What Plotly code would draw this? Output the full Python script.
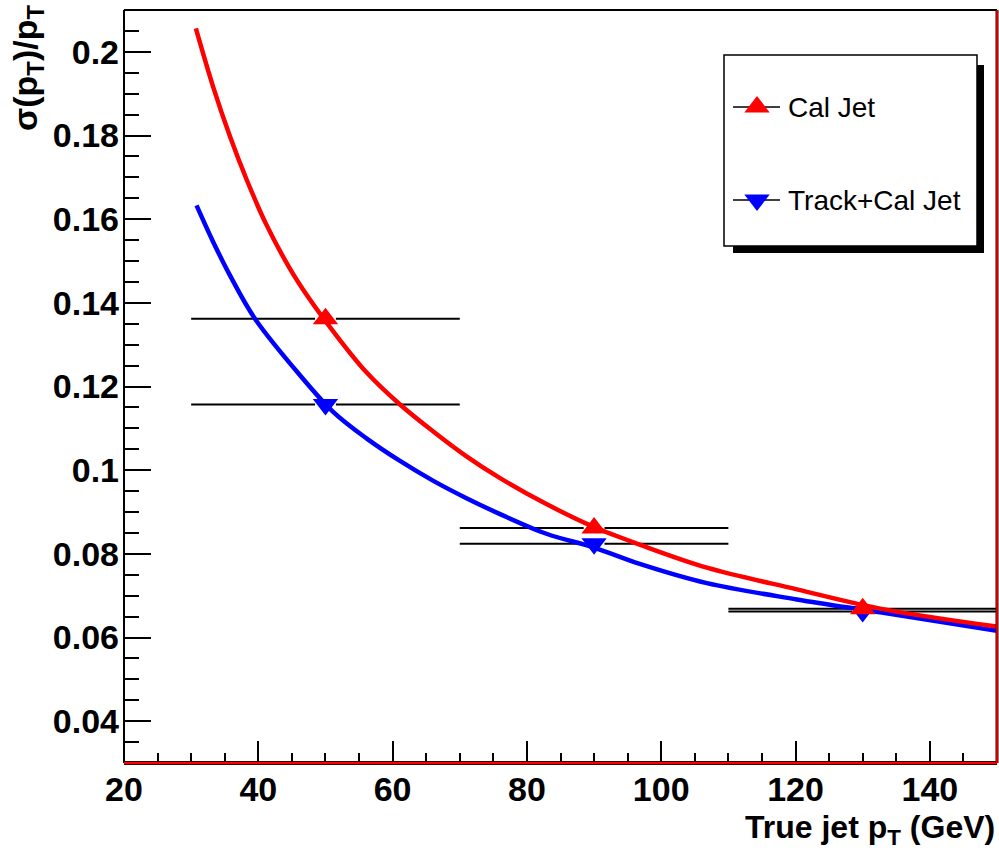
import plotly.graph_objects as go

# ---- data ----
pt_points = [50, 90, 130]
pt_halfwidth = [20, 20, 20]
cal_res = [0.1362, 0.0862, 0.0669]
trk_res = [0.1157, 0.0824, 0.0662]

cal_fit_pt = [30.7, 33.3, 35.8, 38.3, 41.2, 44.7, 47.5, 51.1, 56.1, 61.1, 66.0, 71.0,
              76.0, 82.9, 90.0, 96.8, 106.8, 120.2, 132.6, 150.0]
cal_fit_res = [0.2056, 0.1915, 0.1797, 0.1693, 0.1587, 0.1482, 0.1412, 0.1333, 0.1234, 0.1157,
               0.1093, 0.1033, 0.0981, 0.0919, 0.0864, 0.0822, 0.0767, 0.0715, 0.0669, 0.0626]
trk_fit_pt = [30.8, 33.3, 35.8, 39.5, 46.2, 51.1, 56.1, 61.1, 66.0, 71.0, 76.0,
              82.9, 90.0, 96.8, 106.8, 120.2, 132.6, 150.0]
trk_fit_res = [0.1633, 0.1545, 0.1465, 0.1362, 0.1227, 0.1140, 0.1076, 0.1022, 0.0975, 0.0933,
               0.0895, 0.0848, 0.0815, 0.0776, 0.0730, 0.0691, 0.0660, 0.0616]

x_range = [20, 150]
y_range = [0.03, 0.21]
legend_names = ["Cal Jet", "Track+Cal Jet"]

RED = "#ff0000"
BLUE = "#0000ff"
MSIZE = 22
MARKER_GAP = 1.55  # half-width (data units) of the gap ROOT leaves around a marker


def err_segments(xs, hw, ys, gap):
    X, Y = [], []
    for x, h, y in zip(xs, hw, ys):
        X += [x - h, x - gap, None, x + gap, x + h, None]
        Y += [y, y, None, y, y, None]
    return X, Y


fig = go.Figure()

for ys in (trk_res, cal_res):
    ex, ey = err_segments(pt_points, pt_halfwidth, ys, MARKER_GAP)
    fig.add_trace(go.Scatter(x=ex, y=ey, mode="lines", line=dict(color="black", width=2),
                             hoverinfo="skip", showlegend=False))

fig.add_trace(go.Scatter(x=trk_fit_pt, y=trk_fit_res, mode="lines",
                         line=dict(color=BLUE, width=4.5, shape="spline", smoothing=1.0), showlegend=False))
fig.add_trace(go.Scatter(x=pt_points, y=trk_res, mode="markers", name=legend_names[1],
                         marker=dict(symbol="triangle-down", size=MSIZE, color=BLUE), showlegend=False))
fig.add_trace(go.Scatter(x=cal_fit_pt, y=cal_fit_res, mode="lines",
                         line=dict(color=RED, width=4.5, shape="spline", smoothing=1.0), showlegend=False))
fig.add_trace(go.Scatter(x=pt_points, y=cal_res, mode="markers", name=legend_names[0],
                         marker=dict(symbol="triangle-up", size=MSIZE, color=RED), showlegend=False))

# ---- legend (ROOT style, drawn by hand) ----
W, H = 873.0, 753.0  # plot area in px
L, T = 124.0, 10.0


def px(xp):
    return (xp - L) / W


def py(yp):
    return (T + H - yp) / H


shapes = []
# shadow
shapes.append(dict(type="rect", xref="paper", yref="paper", x0=px(733), x1=px(984), y0=py(253), y1=py(65),
                   fillcolor="black", line=dict(width=0), layer="below"))
# box
shapes.append(dict(type="rect", xref="paper", yref="paper", x0=px(724), x1=px(977), y0=py(246), y1=py(55),
                   fillcolor="white", line=dict(color="black", width=1.5), layer="below"))
entry_y = [107, 200]
for ey in entry_y:
    shapes.append(dict(type="line", xref="paper", yref="paper", x0=px(733), x1=px(780), y0=py(ey), y1=py(ey),
                       line=dict(color="black", width=1.5), layer="below"))

# frame
shapes.append(dict(type="line", xref="paper", yref="paper", x0=0, x1=1, y0=1, y1=1,
                   line=dict(color="black", width=2), layer="above"))
shapes.append(dict(type="line", xref="paper", yref="paper", x0=0, x1=0, y0=0, y1=1,
                   line=dict(color="black", width=2), layer="above"))
shapes.append(dict(type="line", xref="paper", yref="paper", x0=0, x1=1, y0=0, y1=0,
                   line=dict(color="#300000", width=4), layer="above"))
shapes.append(dict(type="line", xref="paper", yref="paper", x0=0, x1=1, y0=0, y1=0,
                   line=dict(color=RED, width=2), layer="above"))
shapes.append(dict(type="line", xref="paper", yref="paper", x0=1, x1=1, y0=0, y1=1,
                   line=dict(color="#300000", width=3), layer="above"))
shapes.append(dict(type="line", xref="paper", yref="paper", x0=1, x1=1, y0=0, y1=1,
                   line=dict(color=RED, width=1.5), layer="above"))

# legend markers on an overlay axis in paper-like units
fig.add_trace(go.Scatter(x=[px(757)], y=[py(entry_y[0])], mode="markers", xaxis="x2", yaxis="y2",
                         marker=dict(symbol="triangle-up", size=MSIZE, color=RED), showlegend=False,
                         hoverinfo="skip"))
fig.add_trace(go.Scatter(x=[px(757)], y=[py(entry_y[1])], mode="markers", xaxis="x2", yaxis="y2",
                         marker=dict(symbol="triangle-down", size=MSIZE, color=BLUE), showlegend=False,
                         hoverinfo="skip"))

annotations = []
for name, ey in zip(legend_names, entry_y):
    annotations.append(dict(xref="paper", yref="paper", x=px(786), y=py(ey), xanchor="left", yanchor="middle",
                            text=name, showarrow=False,
                            font=dict(family="Liberation Sans", size=28, color="black")))
annotations.append(dict(xref="paper", yref="paper", x=px(997), y=py(830), xanchor="right", yanchor="middle",
                        text="<b>True jet p<sub>T</sub> (GeV)</b>", showarrow=False,
                        font=dict(family="Liberation Sans", size=32, color="black")))
annotations.append(dict(xref="paper", yref="paper", x=px(27), y=py(3), xanchor="center", yanchor="top",
                        text="<b>σ(p<sub>T</sub>)/p<sub>T</sub></b>", showarrow=False, textangle=-90,
                        font=dict(family="Liberation Sans", size=34, color="black")))

tickfont = dict(family="Liberation Sans", size=34, color="black", weight="bold")

fig.update_layout(
    width=999, height=853,
    margin=dict(l=124, r=2, t=10, b=90),
    paper_bgcolor="white", plot_bgcolor="white",
    shapes=shapes, annotations=annotations,
    showlegend=False,
    xaxis=dict(range=x_range, tickmode="linear", tick0=20, dtick=20, ticks="inside", ticklen=22,
               tickwidth=2, tickcolor="black", showgrid=False, zeroline=False, showline=False,
               tickfont=tickfont, ticklabelstandoff=3,
               minor=dict(ticks="inside", dtick=5, tick0=20, ticklen=10, tickwidth=2, tickcolor="black",
                          showgrid=False)),
    yaxis=dict(range=y_range, tickmode="linear", tick0=0.04, dtick=0.02, ticks="inside", ticklen=27,
               tickwidth=2, tickcolor="black", showgrid=False, zeroline=False, showline=False,
               tickfont=tickfont, ticklabelstandoff=4,
               minor=dict(ticks="inside", dtick=0.005, tick0=0.03, ticklen=15, tickwidth=2, tickcolor="black",
                          showgrid=False)),
    xaxis2=dict(overlaying="x", range=[0, 1], visible=False, fixedrange=True),
    yaxis2=dict(overlaying="y", range=[0, 1], visible=False, fixedrange=True),
)

fig.write_html("out.html")
